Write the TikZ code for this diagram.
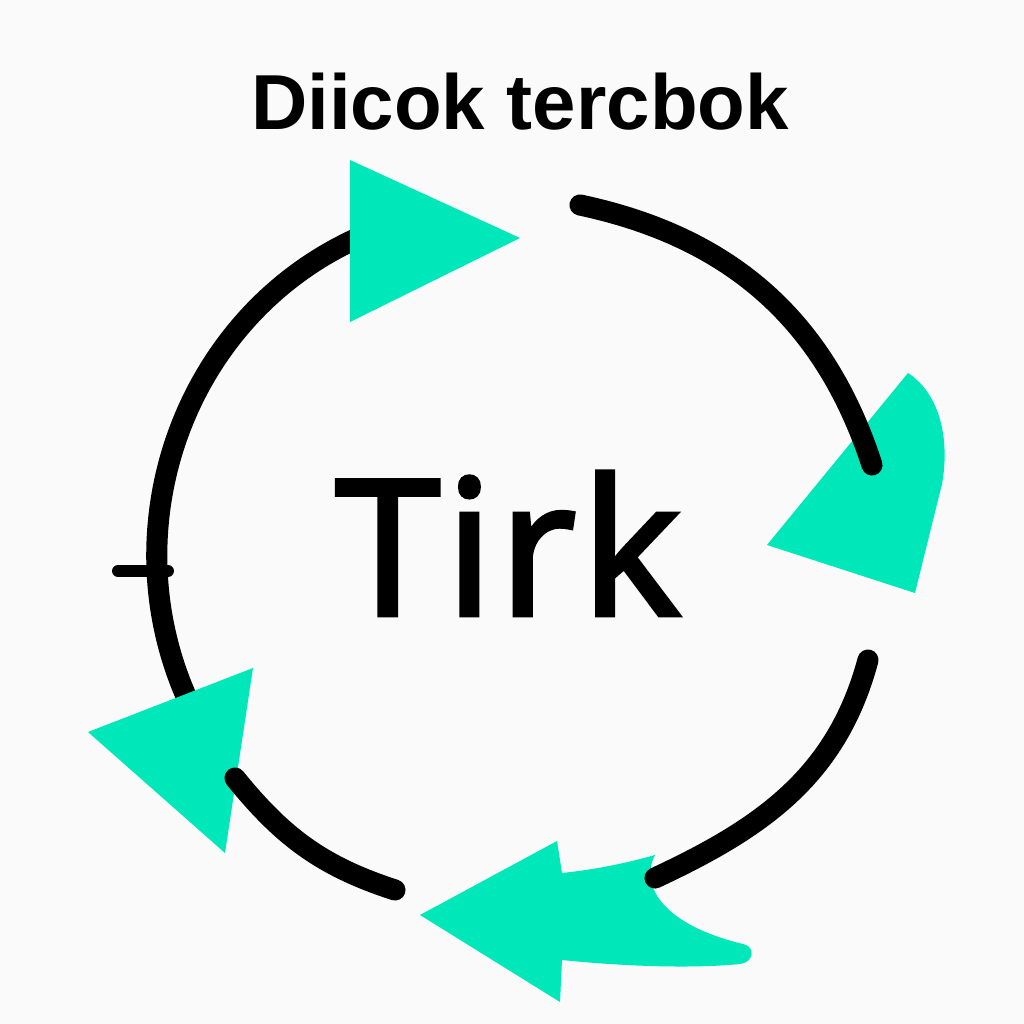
\documentclass[tikz,border=0pt]{standalone}
\usepackage{fontspec}
\setmainfont{Liberation Sans}
\newfontfamily\tirkfont{Open Sans}[LetterSpace=3, FakeBold=2.6]
\definecolor{mint}{RGB}{0,232,186}
\definecolor{paper}{RGB}{250,250,250}

\begin{document}
\begin{tikzpicture}[
		ring/.style = {draw=black, line width=6pt, line cap=round},
		head/.style = {fill=mint, draw=none},
		tickmark/.style = {draw=black, line width=3.4pt, line cap=round}
		]
		\fill[paper] (0,0) rectangle (10.24,10.24);
		\useasboundingbox (0,0) rectangle (10.24,10.24);

		%Nodes
		\node[anchor=base, font=\bfseries\fontsize{22.2}{26}\selectfont]	(title)	at	(5.20, 8.94)	{Diicok tercbok};
		\node[anchor=base, font=\tirkfont\fontsize{53.6}{60}\selectfont]	(tirk)	at	(5.08, 4.09)	{Tirk};

		%Points
		\coordinate	(a1)	at	(3.60, 7.87);
		\coordinate	(a2)	at	(1.95, 3.09);
		\coordinate	(b1)	at	(2.35, 2.46);
		\coordinate	(b2)	at	(3.95, 1.34);
		\coordinate	(c1)	at	(5.80, 8.19);
		\coordinate	(c2)	at	(8.72, 5.59);
		\coordinate	(d1)	at	(8.68, 3.64);
		\coordinate	(d2)	at	(6.55, 1.46);
		\coordinate	(k1)	at	(1.18, 4.53);
		\coordinate	(k2)	at	(1.68, 4.53);

		%Lines
		\draw[ring]	(a1)	to[out=204, in=117]	(a2);
		\draw[tickmark]	(k1)	--	(k2);

		%Heads
		\fill[head]	(3.50, 8.64) -- (5.20, 7.86) -- (3.50, 7.02) -- cycle;
		\fill[head]	(9.08, 6.51) .. controls (9.40, 6.30) and (9.50, 5.85) .. (9.42, 5.40)
			-- (9.15, 4.31) -- (7.67, 4.79) -- cycle;
		\fill[head]	(0.88, 2.92) -- (2.53, 3.56) -- (2.25, 1.71) -- cycle;
		\fill[head]	(4.20, 1.09) -- (5.57, 1.83) -- (5.62, 1.51)
			.. controls (6.00, 1.55) and (6.30, 1.62) .. (6.55, 1.69)
			.. controls (6.40, 1.40) and (6.60, 1.00) .. (7.43, 0.80)
			.. controls (7.55, 0.78) and (7.55, 0.62) .. (7.40, 0.60)
			.. controls (6.90, 0.55) and (6.20, 0.58) .. (5.62, 0.64)
			-- (5.60, 0.22) -- cycle;

		\draw[ring]	(b1)	to[out=309, in=162]	(b2);
		\draw[ring]	(c1)	to[out=-12, in=108]	(c2);
		\draw[ring]	(d1)	to[out=-105, in=25]	(d2);
	\end{tikzpicture}
\end{document}
